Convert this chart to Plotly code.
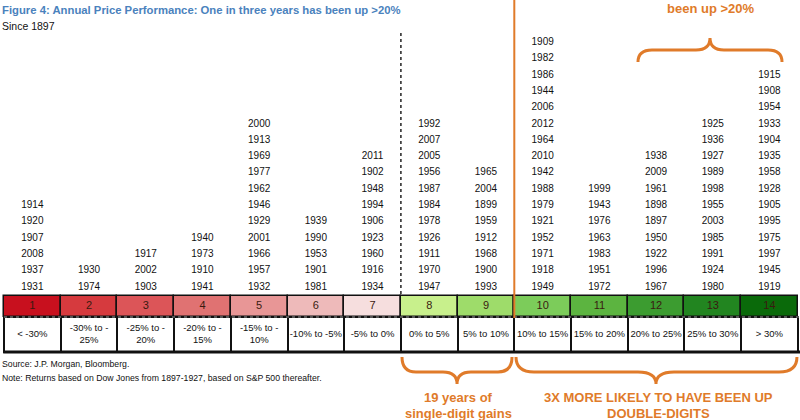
import plotly.graph_objects as go

# buckets of annual price return
buckets = list(range(1, 15))
range_labels = ['< -30%', '-30% to -<br>25%', '-25% to -<br>20%', '-20% to -<br>15%',
                '-15% to -<br>10%', '-10% to -5%', '-5% to 0%', '0% to 5%', '5% to 10%',
                '10% to 15%', '15% to 20%', '20% to 25%', '25% to 30%', '> 30%']

# years in each bucket, listed top to bottom as in the figure
years_1 = [1914, 1920, 1907, 2008, 1937, 1931]
years_2 = [1930, 1974]
years_3 = [1917, 2002, 1903]
years_4 = [1940, 1973, 1910, 1941]
years_5 = [2000, 1913, 1969, 1977, 1962, 1946, 1929, 2001, 1966, 1957, 1932]
years_6 = [1939, 1990, 1953, 1901, 1981]
years_7 = [2011, 1902, 1948, 1994, 1906, 1923, 1960, 1916, 1934]
years_8 = [1992, 2007, 2005, 1956, 1987, 1984, 1978, 1926, 1911, 1970, 1947]
years_9 = [1965, 2004, 1899, 1959, 1912, 1968, 1900, 1993]
years_10 = [1909, 1982, 1986, 1944, 2006, 2012, 1964, 2010, 1942, 1988, 1979, 1921, 1952, 1971, 1918, 1949]
years_11 = [1999, 1943, 1976, 1963, 1983, 1951, 1972]
years_12 = [1938, 2009, 1961, 1898, 1897, 1950, 1922, 1996, 1967]
years_13 = [1925, 1936, 1927, 1989, 1998, 1955, 2003, 1985, 1991, 1924, 1980]
years_14 = [1915, 1908, 1954, 1933, 1904, 1935, 1958, 1928, 1905, 1995, 1975, 1997, 1945, 1919]

bucket_colors = ['#c8101e', '#d63a3e', '#dc5558', '#e07272', '#e89696', '#eebaba', '#f6dede',
                 '#c8f08c', '#9edc6a', '#7ccc5a', '#5cb440', '#3c9c30', '#228520', '#0a6a0a']

all_years = [years_1, years_2, years_3, years_4, years_5, years_6, years_7,
             years_8, years_9, years_10, years_11, years_12, years_13, years_14]

FONT = 'Arial, Liberation Sans, sans-serif'
ORANGE = '#e07b2a'
W, H = 800, 420
ROW = 16.3          # px per row of years
BASE_PX = 287       # px of the lowest row of years


def py(px):
    # pixel (from top) -> row units of the y axis
    return (BASE_PX - px) / ROW


xs, ys, txt = [], [], []
for b, yl in zip(buckets, all_years):
    n = len(yl)
    for j, yr in enumerate(yl):
        xs.append(b)
        ys.append(n - 1 - j)
        txt.append(str(yr))

fig = go.Figure()

fig.add_trace(go.Scatter(x=xs, y=ys, text=txt, mode='text',
                         textfont=dict(family=FONT, size=10, color='#111'),
                         hoverinfo='text'))

# coloured bucket band
fig.add_trace(go.Bar(x=buckets, y=[py(296) - py(317)] * 14, base=py(317), width=1,
                     marker=dict(color=bucket_colors, line=dict(color='#111', width=1.5)),
                     hoverinfo='skip'))
fig.add_trace(go.Scatter(x=buckets, y=[(py(296) + py(317)) / 2] * 14, text=[str(b) for b in buckets],
                         mode='text', textfont=dict(family=FONT, size=11, color='#3a1a10'),
                         hoverinfo='skip'))

# range label band
fig.add_trace(go.Bar(x=buckets, y=[py(317) - py(352)] * 14, base=py(352), width=1,
                     marker=dict(color='white', line=dict(color='#111', width=2)),
                     hoverinfo='skip'))
fig.add_trace(go.Scatter(x=buckets, y=[(py(317) + py(352)) / 2] * 14, text=range_labels,
                         mode='text', textfont=dict(family=FONT, size=9.5, color='#111'),
                         hoverinfo='skip'))

# dotted separator under colour band, thick bottom rule
fig.add_shape(type='line', xref='paper', x0=0.005, x1=1, y0=py(317), y1=py(317),
              line=dict(color='#555', width=2, dash='dot'))
fig.add_shape(type='line', xref='paper', x0=0.004, x1=1, y0=py(352), y1=py(352),
              line=dict(color='#111', width=3))
# dotted vertical between negative and positive
fig.add_shape(type='line', x0=7.5, x1=7.5, y0=py(33), y1=py(296),
              line=dict(color='#222', width=1.5, dash='dot'))
# orange vertical at 10%
fig.add_shape(type='line', x0=9.5, x1=9.5, y0=py(0), y1=py(318),
              line=dict(color=ORANGE, width=2))


def brace(x0, x1, xm, y_end, y_mid, y_tip, r=14):
    # curly brace path in paper coords, given pixel positions
    def p(x, y):
        return '%.4f,%.4f' % (x / W, 1 - y / H)
    return ('M ' + p(x0, y_end) + ' Q ' + p(x0, y_mid) + ' ' + p(x0 + r, y_mid) +
            ' L ' + p(xm - r, y_mid) + ' Q ' + p(xm, y_mid) + ' ' + p(xm, y_tip) +
            ' Q ' + p(xm, y_mid) + ' ' + p(xm + r, y_mid) +
            ' L ' + p(x1 - r, y_mid) + ' Q ' + p(x1, y_mid) + ' ' + p(x1, y_end))


for path in [brace(402, 512, 457, 357, 372, 384),
             brace(516, 797, 656, 357, 372, 384, r=18),
             brace(638, 782, 710, 62, 50, 38)]:
    fig.add_shape(type='path', xref='paper', yref='paper', path=path,
                  line=dict(color=ORANGE, width=3))


def note(text, x, y, size, color='#111', anchor='left', bold=False):
    if bold:
        text = '<b>' + text + '</b>'
    fig.add_annotation(text=text, xref='paper', yref='paper', x=x / W, y=1 - y / H,
                       xanchor=anchor, yanchor='middle', showarrow=False,
                       font=dict(family=FONT, size=size, color=color))


note('Figure 4: Annual Price Performance: One in three years has been up >20%', 0, 10, 11.3,
     color='#4a82bd', bold=True)
note('Since 1897', 0, 26, 10.5)
note('Source: J.P. Morgan, Bloomberg.', 0, 364, 8.7)
note('Note: Returns based on Dow Jones from 1897-1927, based on S&P 500 thereafter.', 0, 378, 8.7)
note('19 years of', 458, 397, 13, color=ORANGE, anchor='center', bold=True)
note('single-digit gains', 458, 413, 13, color=ORANGE, anchor='center', bold=True)
note('3X MORE LIKELY TO HAVE BEEN UP', 658, 397, 13, color=ORANGE, anchor='center', bold=True)
note('DOUBLE-DIGITS', 658, 413, 13, color=ORANGE, anchor='center', bold=True)
note('been up >20%', 710, 8, 13, color=ORANGE, anchor='center', bold=True)

fig.update_layout(
    width=W, height=H,
    margin=dict(l=0, r=0, t=0, b=0),
    paper_bgcolor='white', plot_bgcolor='white',
    showlegend=False, barmode='overlay', bargap=0,
    xaxis=dict(range=[0.5 - 4 / 56.7, 0.5 + 796 / 56.7], visible=False, fixedrange=True),
    yaxis=dict(range=[py(H), py(0)], visible=False, fixedrange=True),
)

fig.write_html("out.html", config={'displayModeBar': False},
               post_script="document.body.style.margin='0';")
